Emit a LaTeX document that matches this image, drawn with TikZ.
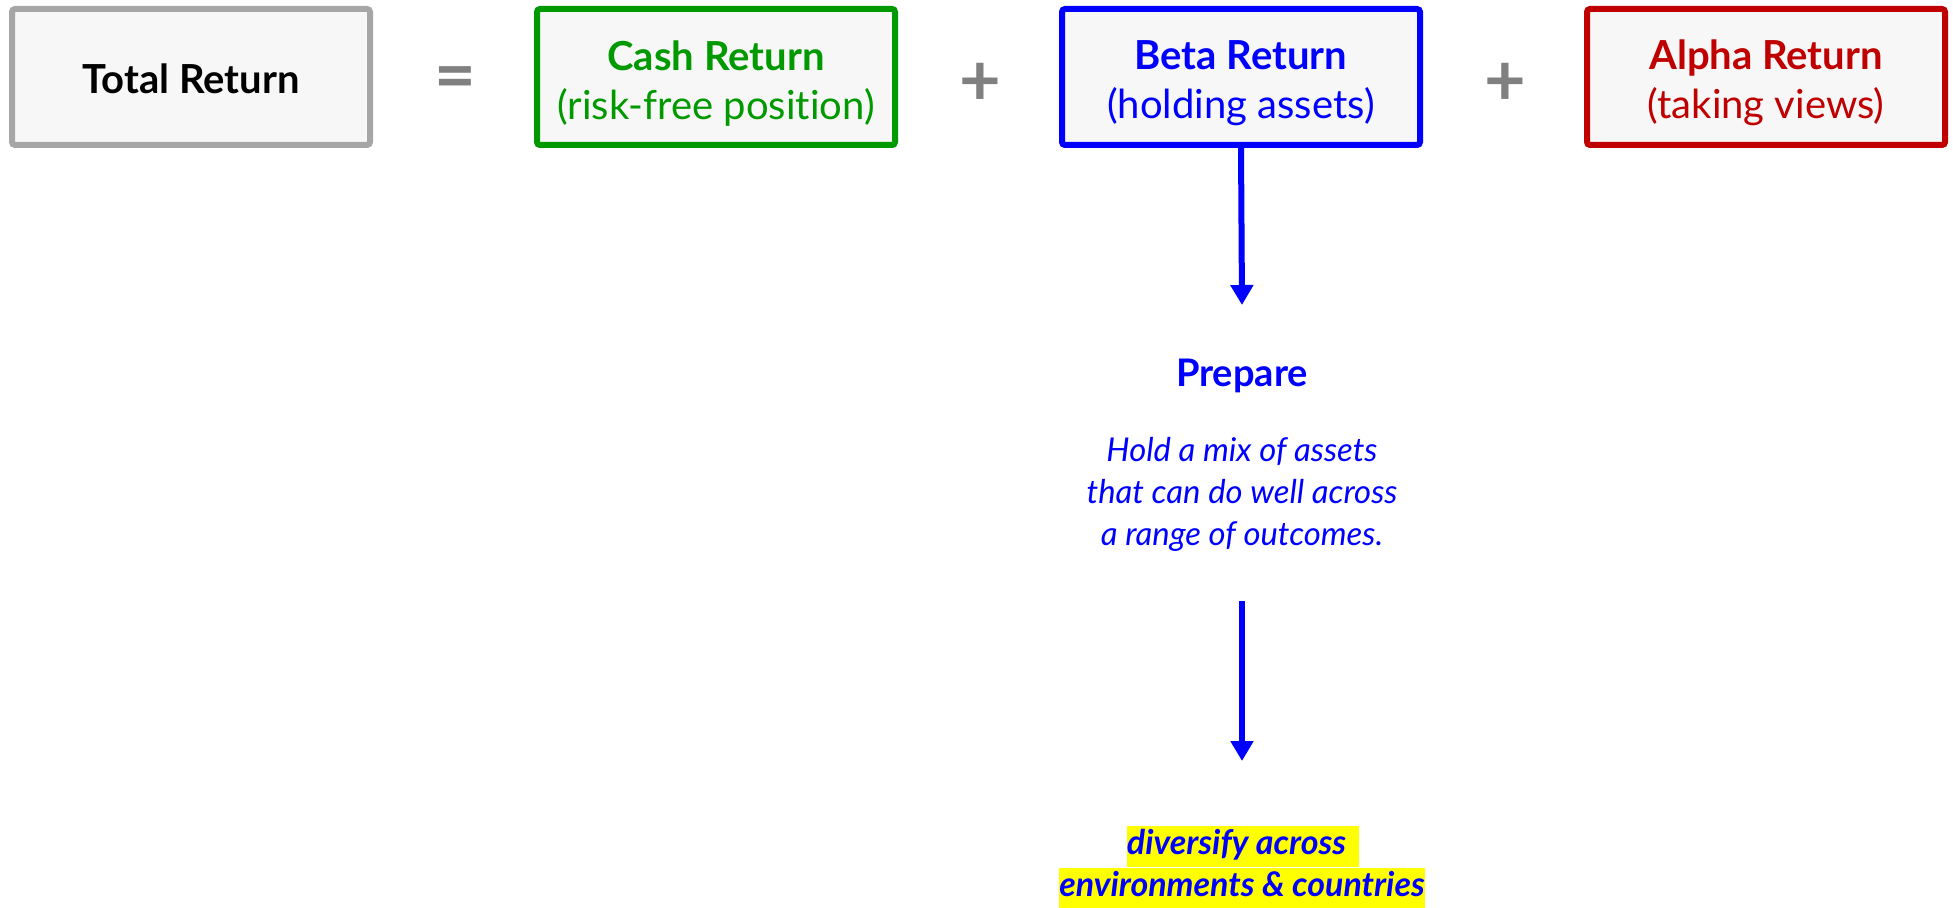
\documentclass[tikz,border=0pt]{standalone}
\usepackage{fontspec}
\setmainfont{Lato}[Ligatures=NoCommon]
\usetikzlibrary{arrows.meta,positioning}

\definecolor{cashgreen}{HTML}{009900}
\definecolor{betablue}{HTML}{0000FF}
\definecolor{alphared}{HTML}{C00000}
\definecolor{boxgray}{HTML}{A6A6A6}
\definecolor{boxfill}{HTML}{F7F7F7}
\definecolor{opgray}{HTML}{808080}
\definecolor{marker}{HTML}{FFFF00}

\newcommand{\toprule}{\rule{0pt}{21pt}}

\tikzset{
    retbox/.style={draw, line width=3pt, fill=boxfill, rounded corners=1.5pt,
        minimum width=179pt, minimum height=68pt, align=center,
        font=\fontsize{20}{24.5}\selectfont},
    op/.style={text=opgray, font=\bfseries\fontsize{36}{36}\selectfont},
    flow/.style={betablue, line width=3pt, -{Triangle[width=11pt,length=10pt]}},
    hilite/.style={fill=marker, text=betablue, inner xsep=0pt, inner ysep=1.75pt,
        text height=12.5pt, text depth=4.5pt,
        font=\bfseries\itshape\fontsize{17}{20}\selectfont},
}

\begin{document}
\begin{tikzpicture}[x=0.5pt, y=-0.5pt]
            \useasboundingbox (0,0) rectangle (1953,908);
            \node[retbox, draw=boxgray] (total) at (191,77) {\rule{0pt}{17pt}\bfseries Total Return};
            \node[retbox, draw=cashgreen, text=cashgreen] (cash) at (716,77) {\toprule\textbf{Cash Return}\\(risk-free position)};
            \node[retbox, draw=betablue, text=betablue] (beta) at (1241,77) {\toprule\textbf{Beta Return}\\(holding assets)};
            \node[retbox, draw=alphared, text=alphared] (alpha) at (1766,77) {\toprule\textbf{Alpha Return}\\(taking views)};
            \node[op] (eq) at (455,84) {=};
            \node[op] (plus1) at (980,84) {+};
            \node[op] (plus2) at (1505,84) {+};
            \node[text=betablue, font=\bfseries\fontsize{19}{22}\selectfont] (prep) at (1242,376) {Prepare};
            \node[text=betablue, align=center, font=\itshape\fontsize{16.4}{21}\selectfont] (hold) at (1242,494) {Hold a mix of assets\\that can do well across\\a range of outcomes.};
            \node[hilite] (div1) at (1243,846.5) {diversify across\ \,};
            \node[hilite, below=0pt of div1.south -| hold] (div2) {environments \& countries};
            \coordinate (prep-in) at (1242,305);
            \coordinate (hold-out) at (1242,601);
            \coordinate (div-in) at (1242,761);
            \draw[flow] (beta.south) -- (prep-in);
            \draw[flow] (hold-out) -- (div-in);
        \end{tikzpicture}
\end{document}
